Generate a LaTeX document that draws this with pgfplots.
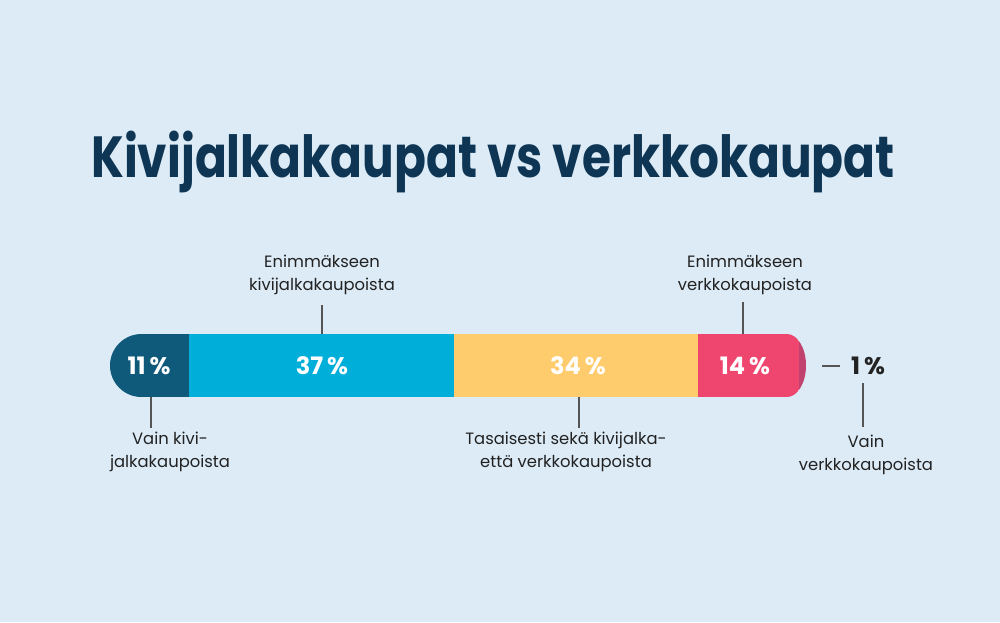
\documentclass[border=0pt]{standalone}
\usepackage{pgfplots}
\pgfplotsset{compat=1.18}
\usepackage{fontspec}
\setmainfont{Poppins}
\newfontfamily\titlefont[FakeStretch=0.81]{Poppins}
\definecolor{bg}{RGB}{220,235,246}
\definecolor{titlec}{RGB}{14,53,83}
\definecolor{c1}{RGB}{15,90,122}
\definecolor{c2}{RGB}{0,174,218}
\definecolor{c3}{RGB}{255,204,109}
\definecolor{c4}{RGB}{238,70,111}
\definecolor{c5}{RGB}{194,66,111}
\definecolor{linec}{RGB}{85,85,85}
\definecolor{textc}{RGB}{34,34,34}

\begin{document}
\begin{tikzpicture}[x=0.5pt,y=-0.5pt,
  lab/.style={align=center,text=textc,font=\fontsize{8.2pt}{11.5pt}\selectfont},
  pct/.style={text=white,font=\fontsize{12pt}{14pt}\selectfont\bfseries}]
\useasboundingbox (0,0) rectangle (1000,622);
\fill[bg] (0,0) rectangle (1000,622);
\begin{scope}
% rounded ends of the bar
\clip (110,365.5) arc[start angle=180,end angle=90,radius=15.75pt]
  -- (787,334) arc[start angle=90,end angle=-90,x radius=9.5pt,y radius=15.75pt]
  -- (141.5,397) arc[start angle=270,end angle=180,radius=15.75pt] -- cycle;
\begin{axis}[
    at={(0pt,-311pt)}, anchor=south west,
    scale only axis, width=500pt, height=311pt,
    xmin=-15.33, xmax=124.04, ymin=0, ymax=622,
    hide axis, xbar stacked, bar width=31.5pt,
]
\addplot[fill=c1, draw=none] coordinates {(11,256.5)};
\addplot[fill=c2, draw=none] coordinates {(37,256.5)};
\addplot[fill=c3, draw=none] coordinates {(34,256.5)};
\addplot[fill=c4, draw=none] coordinates {(14,256.5)};
\addplot[fill=c5, draw=none] coordinates {(1,256.5)};
\end{axis}
\end{scope}

\node[pct] at (149,366) {11\,\%};
\node[pct] at (322,366) {37\,\%};
\node[pct] at (578,366) {34\,\%};
\node[pct] at (745,366) {14\,\%};

\node[text=titlec,font=\titlefont\fontsize{29pt}{34pt}\selectfont\bfseries] at (493,162) {Kivijalkakaupat vs verkkokaupat};

\begin{scope}[linec, line width=0.75pt]
\draw (151,397) -- (151,428);
\draw (322,334) -- (322,305);
\draw (579,397) -- (579,428);
\draw (743,334) -- (743,302);
\draw (822,366) -- (840,366);
\draw (863,383) -- (863,427);
\end{scope}
\node[text=textc,font=\fontsize{12pt}{14pt}\selectfont\bfseries] at (868,366) {1\,\%};

\node[lab] at (170,452) {Vain kivi-\\jalkakaupoista};
\node[lab] at (322,275) {Enimmäkseen\\kivijalkakaupoista};
\node[lab] at (566,452) {Tasaisesti sekä kivijalka-\\että verkkokaupoista};
\node[lab] at (745,275) {Enimmäkseen\\verkkokaupoista};
\node[lab] at (866,455) {Vain\\verkkokaupoista};
\end{tikzpicture}
\end{document}
